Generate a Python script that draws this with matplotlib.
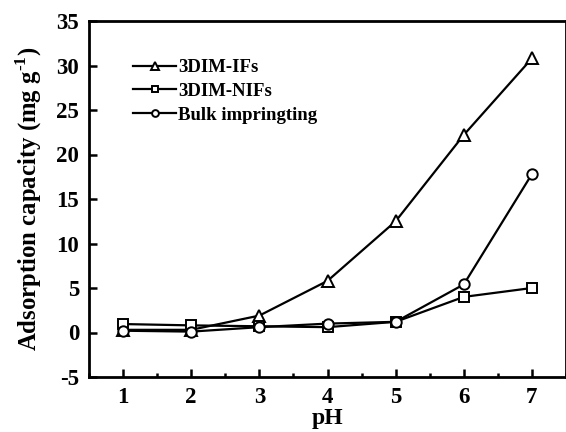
import matplotlib
matplotlib.use('Agg')
import matplotlib.pyplot as plt
from matplotlib.ticker import MultipleLocator

plt.rcParams['font.family'] = 'Liberation Serif'
plt.rcParams['font.weight'] = 'bold'
plt.rcParams['axes.unicode_minus'] = False
plt.rcParams['mathtext.fontset'] = 'custom'
plt.rcParams['mathtext.rm'] = 'Liberation Serif:bold'
plt.rcParams['mathtext.bf'] = 'Liberation Serif:bold'

# pH values and adsorption capacity (mg/g) per material
ph = [1, 2, 3, 4, 5, 6, 7]
ifs = [0.3, 0.3, 1.9, 5.8, 12.5, 22.2, 30.8]
nifs = [0.95, 0.8, 0.7, 0.6, 1.2, 4.0, 5.0]
bulk = [0.2, 0.1, 0.6, 1.0, 1.2, 5.4, 17.8]
labels = ['3DIM-IFs', '3DIM-NIFs', 'Bulk impringting']

fig = plt.figure(figsize=(5.66, 4.32), dpi=100)
ax = fig.add_axes([89/566, 1 - 377/432, 477/566, 356/432])

common = dict(color='black', lw=1.6, markerfacecolor='white', markeredgewidth=1.4)
ax.plot(ph, ifs, marker='^', markersize=8, label=labels[0], **common)
ax.plot(ph, nifs, marker='s', markersize=6.5, label=labels[1], **common)
ax.plot(ph, bulk, marker='o', markersize=7.5, label=labels[2], **common)

ax.set_xlim(0.5, 7.5)
ax.set_ylim(-5, 35)
ax.xaxis.set_major_locator(MultipleLocator(1))
ax.xaxis.set_minor_locator(MultipleLocator(0.5))
ax.yaxis.set_major_locator(MultipleLocator(5))
ax.tick_params(which='both', direction='in', labelsize=16.5, width=1.8)
ax.tick_params(which='major', length=6)
ax.tick_params(which='minor', length=3)
ax.tick_params(axis='x', pad=7)
ax.tick_params(axis='y', pad=7)
ax.tick_params(axis='y', which='minor', left=False)
for s in ax.spines.values():
    s.set_linewidth(2.0)

ax.set_xlabel('pH', fontsize=17, fontweight='bold', labelpad=0)
ax.set_ylabel(r'Adsorption capacity (mg g$^{\text{-1}}$)', fontsize=17.8,
              fontweight='bold')
ax.yaxis.set_label_coords(-0.095, 0.5)

ax.legend(loc='upper left', bbox_to_anchor=(0.057, 0.94), frameon=False,
          handlelength=2.3, handletextpad=0.1, labelspacing=0.35, markerscale=0.65,
          prop={'weight': 'bold', 'size': 13.5})

fig.savefig('out.png', dpi=100)
